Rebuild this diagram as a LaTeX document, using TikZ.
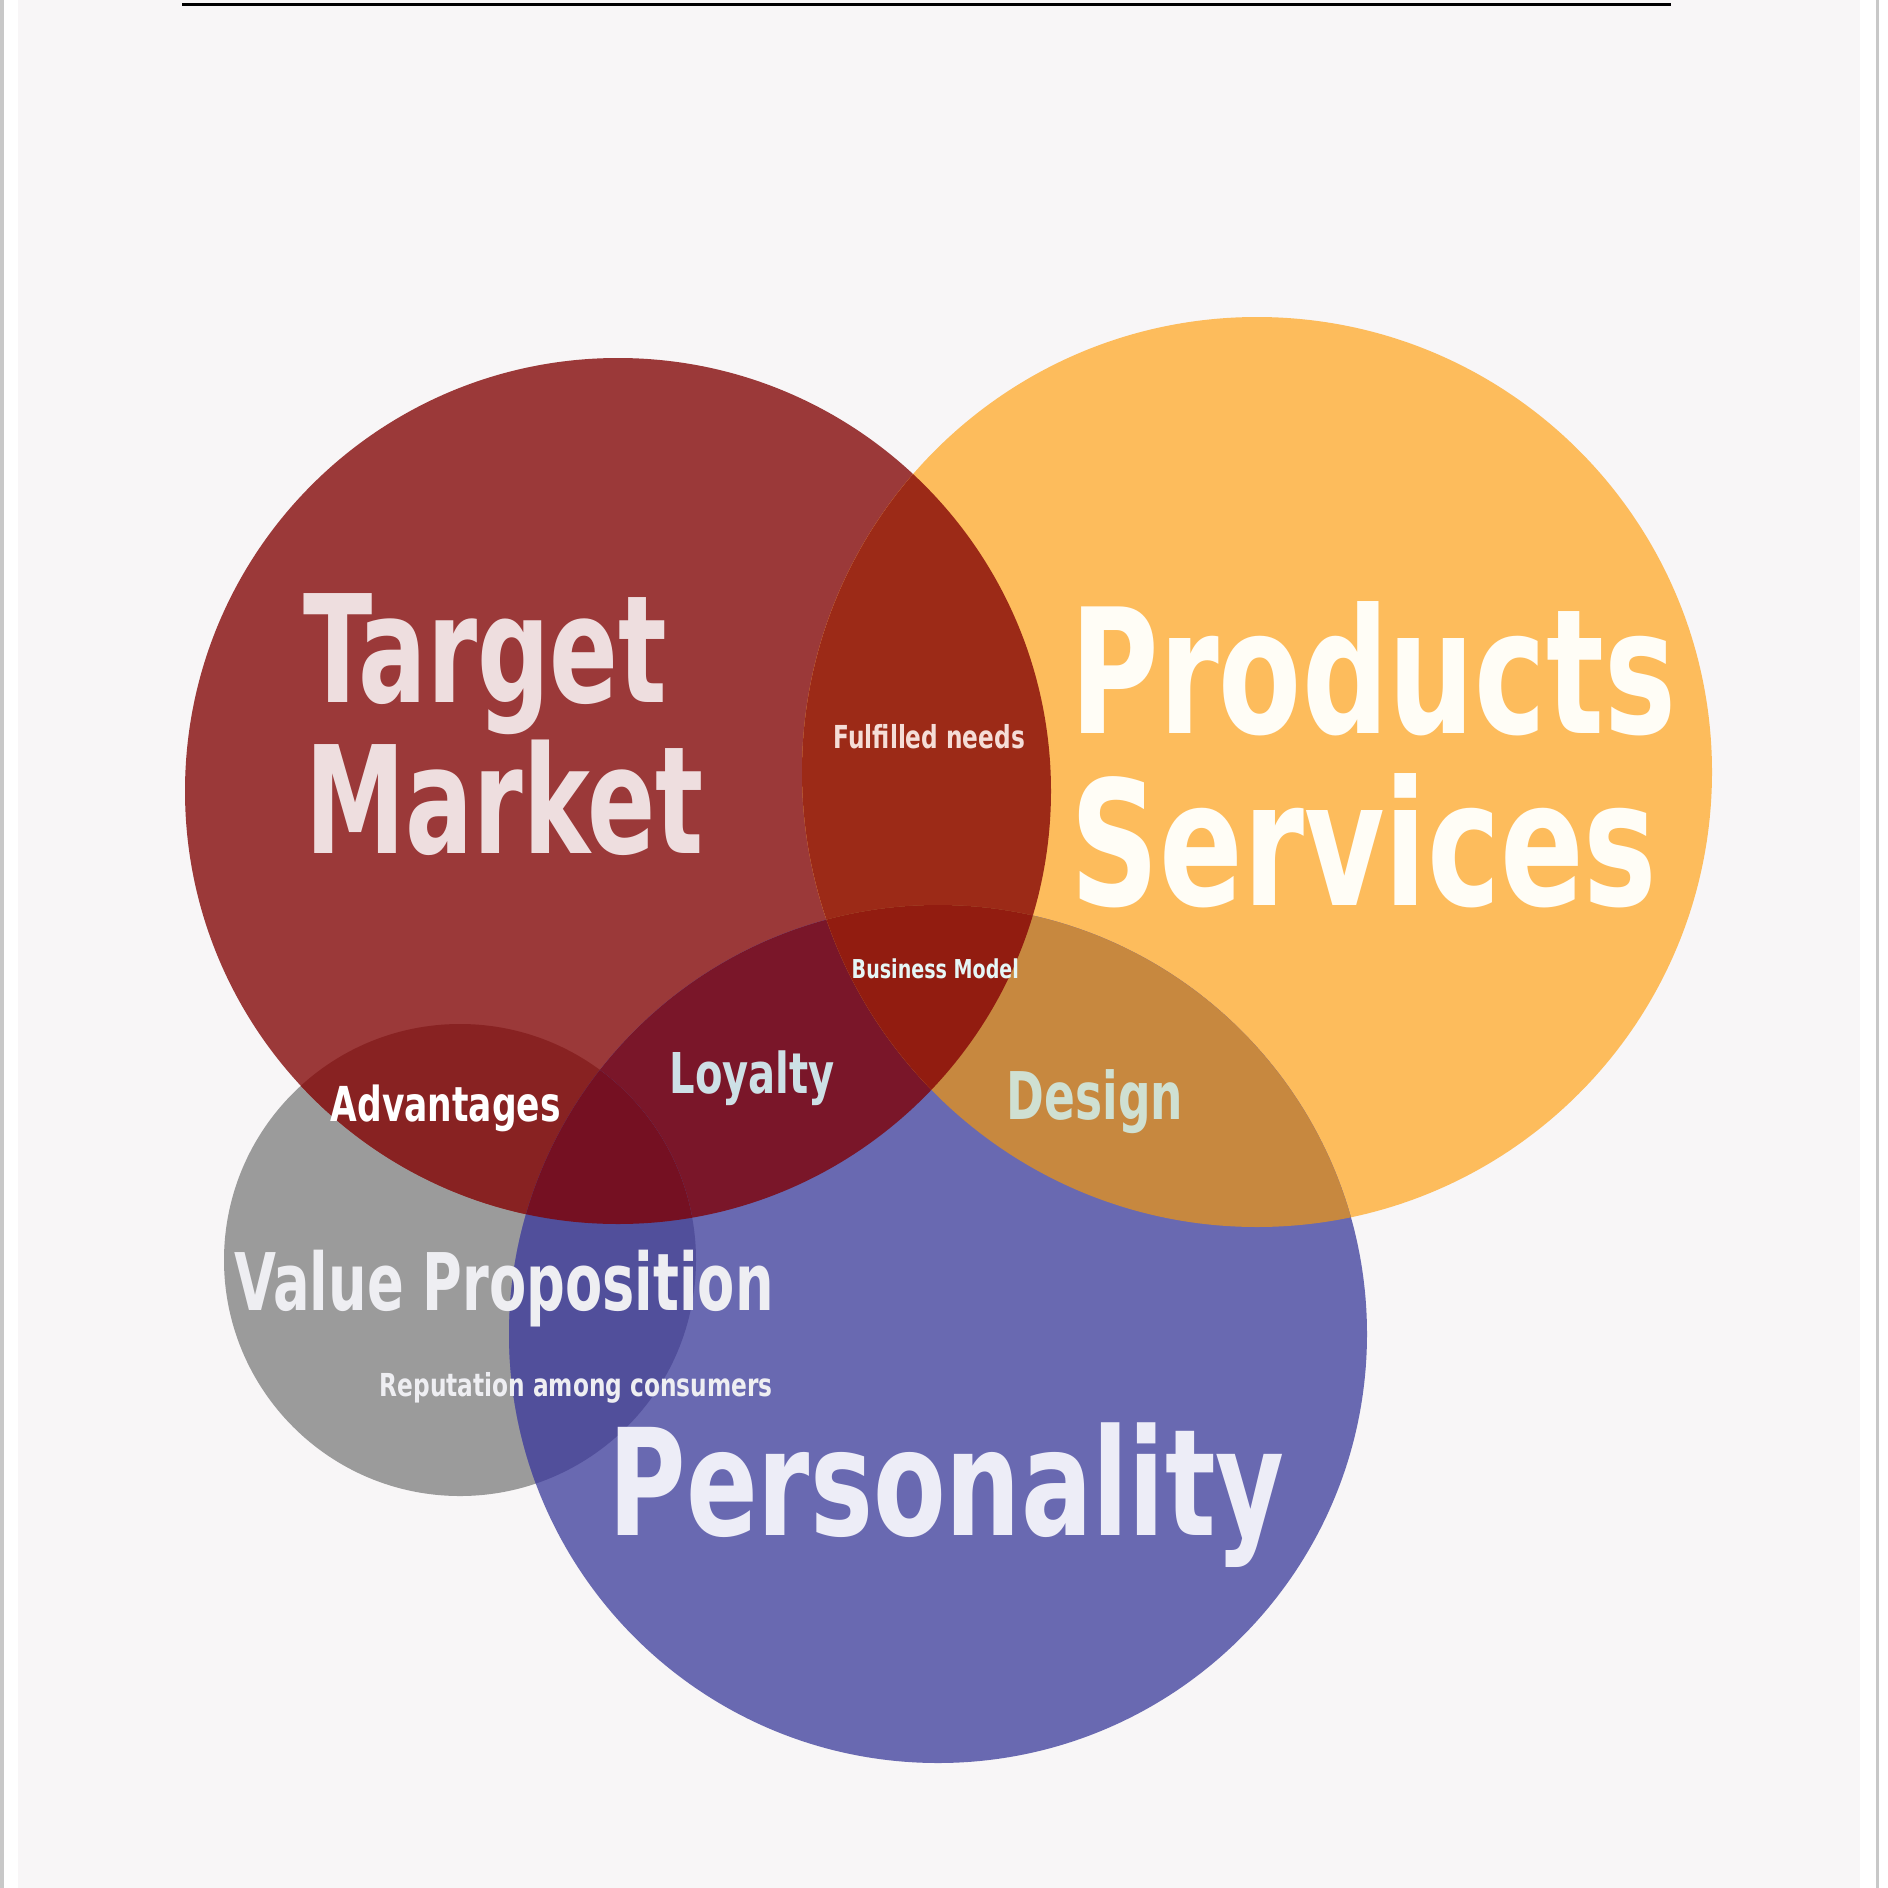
\documentclass[tikz,border=0pt]{standalone}
\usepackage{fontspec}
\IfFontExistsTF{DejaVu Sans Condensed}
  {\setmainfont[FakeStretch=0.78]{DejaVu Sans Condensed}}
  {\setmainfont[FakeStretch=0.70]{DejaVu Sans}}

\definecolor{paper}{HTML}{F8F6F7}
\definecolor{frame}{HTML}{C8C8C8}
\definecolor{tmred}{HTML}{9B3939}
\definecolor{psorange}{HTML}{FDBC5C}
\definecolor{peblue}{HTML}{6969B1}
\definecolor{vpgray}{HTML}{9B9B9B}
\definecolor{redorange}{HTML}{9C2A17}
\definecolor{redblue}{HTML}{7A1629}
\definecolor{orangeblue}{HTML}{C7883F}
\definecolor{redorangeblue}{HTML}{921C10}
\definecolor{grayred}{HTML}{882222}
\definecolor{grayblue}{HTML}{514F9B}
\definecolor{grayredblue}{HTML}{751022}
\definecolor{tmtext}{HTML}{EEDEDF}
\definecolor{pstext}{HTML}{FFFDF6}
\definecolor{fntext}{HTML}{F5DDD7}
\definecolor{bmtext}{HTML}{E5F6F6}
\definecolor{lytext}{HTML}{CDE0E6}
\definecolor{dstext}{HTML}{CFE0D2}
\definecolor{vptext}{HTML}{EEEEF2}
\definecolor{petext}{HTML}{EDEDF7}

\tikzset{
  lbl/.style={anchor=base west, inner sep=0pt, font=\bfseries\fontsize{#1}{#1}\selectfont},
}

\begin{document}
\begin{tikzpicture}[x=0.01cm, y=-0.01cm]
  \useasboundingbox (0,0) rectangle (1888,1888);
  \fill[white] (0,0) rectangle (1888,1888);
  \fill[paper] (18,0) rectangle (1860,1888);
  \draw[frame, line width=0.06cm] (1,0) -- (1,1888);
  \draw[frame, line width=0.03cm] (1877,0) -- (1877,1888);
  \coordinate (rulel) at (182,4.5);
  \coordinate (ruler) at (1671,4.5);
  \draw[black, line width=0.03cm] (rulel) -- (ruler);

  % circle centres
  \coordinate (tm) at (618,791);
  \coordinate (ps) at (1257,772);
  \coordinate (pe) at (938,1334);
  \coordinate (vp) at (460,1260);

  \fill[vpgray] (vp) circle (236);
  \fill[tmred] (tm) circle (433);
  \fill[psorange] (ps) circle (455);
  \fill[peblue] (pe) circle (429);

  % overlaps
  \begin{scope}
    \clip (tm) circle (433);
    \fill[redorange] (ps) circle (455);
    \fill[redblue] (pe) circle (429);
    \fill[grayred] (vp) circle (236);
  \end{scope}
  \begin{scope}
    \clip (ps) circle (455);
    \fill[orangeblue] (pe) circle (429);
  \end{scope}
  \begin{scope}
    \clip (vp) circle (236);
    \fill[grayblue] (pe) circle (429);
  \end{scope}
  \begin{scope}
    \clip (tm) circle (433);
    \clip (pe) circle (429);
    \fill[redorangeblue] (ps) circle (455);
    \fill[grayredblue] (vp) circle (236);
  \end{scope}

  % labels
  \node[lbl=42.5, text=tmtext] (target) at (303,702) {\scalebox{0.968}[1]{Target}};
  \node[lbl=42.5, text=tmtext] (market) at (305,853) {\scalebox{0.959}[1]{Market}};
  \node[lbl=49.4, text=pstext] (products) at (1070,733) {\scalebox{0.992}[1]{Products}};
  \node[lbl=49.4, text=pstext] (services) at (1070,905) {\scalebox{1.013}[1]{Services}};
  \node[lbl=9, text=fntext] (fulfilled) at (833,748) {\scalebox{1.046}[1]{Fulfilled needs}};
  \node[lbl=7.4, text=bmtext] (business) at (851,978) {\scalebox{1.045}[1]{Business Model}};
  \node[lbl=16, text=lytext] (loyalty) at (669,1093) {\scalebox{1.015}[1]{Loyalty}};
  \node[lbl=18.7, text=dstext] (design) at (1006,1119) {\scalebox{0.986}[1]{Design}};
  \node[lbl=13.7, text=white] (advantages) at (330,1121) {\scalebox{1.02}[1]{Advantages}};
  \node[lbl=22.6, text=vptext] (value) at (234,1310) {\scalebox{0.972}[1]{Value Proposition}};
  \node[lbl=9, text=vptext] (reputation) at (379,1396) {\scalebox{1.048}[1]{Reputation among consumers}};
  \node[lbl=42.2, text=petext] (personality) at (608,1535) {\scalebox{1.016}[1]{Personality}};
\end{tikzpicture}
\end{document}
